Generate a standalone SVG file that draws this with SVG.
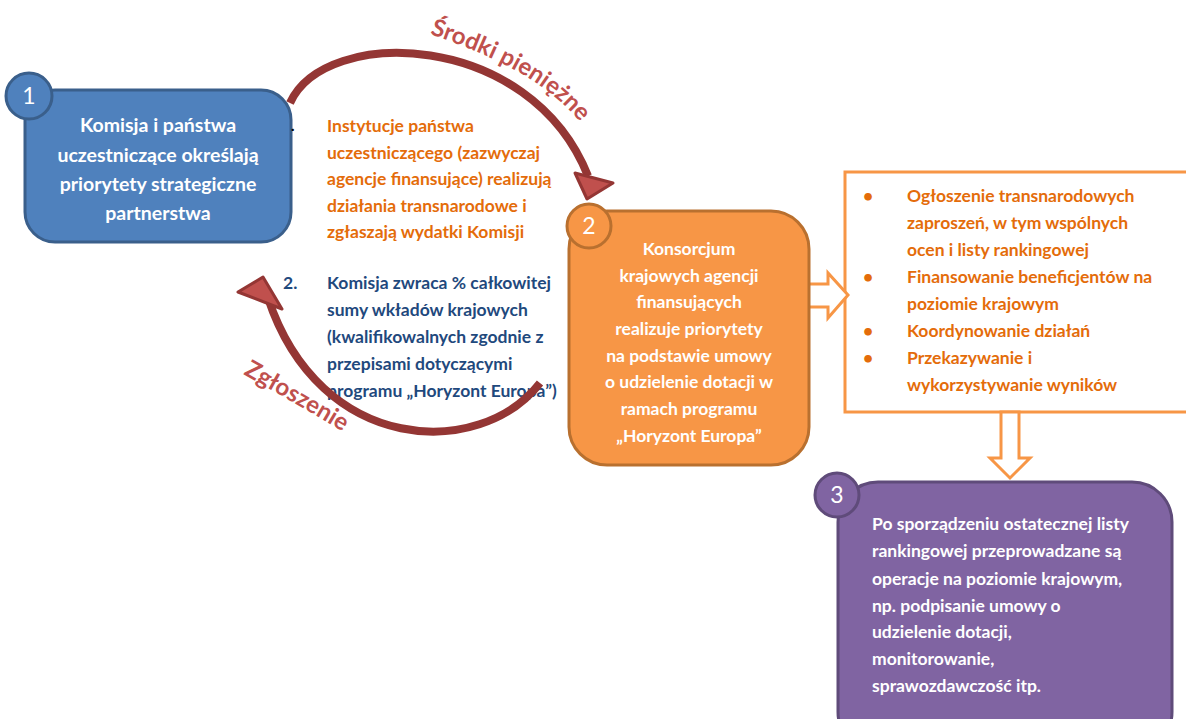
<svg xmlns="http://www.w3.org/2000/svg" width="1186" height="719" viewBox="0 0 1186 719">
<style>
text{font-family:Lato,"Open Sans","Liberation Sans",sans-serif;font-weight:bold}
.w1{fill:#fff;font-size:19.5px;text-anchor:middle}
.w2{fill:#fff;font-size:17.5px;text-anchor:middle}
.w3{fill:#fff;font-size:17.5px}
.or{fill:#E46C0A;font-size:17.5px}
.bl{fill:#1F497D;font-size:17.5px}
.num{fill:#fff;font-size:23px;font-weight:normal;text-anchor:middle}
.lbl{fill:#C0504D;font-size:24px}
.arc{fill:none;stroke:#943634;stroke-width:8}
.head{fill:#C0504D;stroke:#943634;stroke-width:3;stroke-linejoin:round}
.hollow{fill:#fff;stroke:#F79646;stroke-width:3}
</style>
<defs>
<path id="p1" d="M 430 34 C 475 50, 548 76, 586 130"/>
<path id="p2" d="M 243 374 Q 297 404, 350 436"/>
</defs>
<rect width="1186" height="719" fill="#fff"/>

<g id="node-right">
<rect x="845" y="172" width="350" height="240" fill="#fff" stroke="#F79646" stroke-width="3"/>
<g class="or">
<text x="863" y="202">•</text>
<text x="907" y="202">Ogłoszenie transnarodowych</text>
<text x="907" y="229">zaproszeń, w tym wspólnych</text>
<text x="907" y="256">ocen i listy rankingowej</text>
<text x="863" y="283">•</text>
<text x="907" y="283">Finansowanie beneficjentów na</text>
<text x="907" y="310">poziomie krajowym</text>
<text x="863" y="337">•</text>
<text x="907" y="337">Koordynowanie działań</text>
<text x="863" y="364">•</text>
<text x="907" y="364">Przekazywanie i</text>
<text x="907" y="391">wykorzystywanie wyników</text>
</g>
</g>

<g id="connectors">
<polygon class="hollow" points="800,284 828,284 828,273 848,295 828,318 828,307 800,307"/>
<polygon class="hollow" points="1001,412 1019,412 1019,458 1030,458 1010,478 990,458 1001,458"/>
</g>

<g id="node1">
<rect x="25" y="90" width="266" height="152" rx="30" fill="#4F81BD" stroke="#3A5F8B" stroke-width="3"/>
<circle cx="29" cy="96" r="23" fill="#4F81BD" stroke="#3A5F8B" stroke-width="3"/>
<text class="num" x="29" y="104">1</text>
<text class="w1" x="158" y="132">Komisja i państwa</text>
<text class="w1" x="158" y="162">uczestniczące określają</text>
<text class="w1" x="158" y="191">priorytety strategiczne</text>
<text class="w1" x="158" y="220">partnerstwa</text>
</g>

<g id="node2">
<rect x="569" y="211" width="240" height="254" rx="38" fill="#F79646" stroke="#B9702F" stroke-width="3"/>
<circle cx="589" cy="226" r="22" fill="#F79646" stroke="#B9702F" stroke-width="3"/>
<text class="num" x="589" y="234">2</text>
<text class="w2" x="689" y="255">Konsorcjum</text>
<text class="w2" x="689" y="282">krajowych agencji</text>
<text class="w2" x="689" y="308">finansujących</text>
<text class="w2" x="689" y="335">realizuje priorytety</text>
<text class="w2" x="689" y="362">na podstawie umowy</text>
<text class="w2" x="689" y="388">o udzielenie dotacji w</text>
<text class="w2" x="689" y="415">ramach programu</text>
<text class="w2" x="689" y="442">„Horyzont Europa”</text>
</g>

<g id="node3">
<rect x="838" y="482" width="334" height="270" rx="40" fill="#8064A2" stroke="#5F4B7A" stroke-width="3"/>
<circle cx="837" cy="495" r="22" fill="#8064A2" stroke="#5F4B7A" stroke-width="3"/>
<text class="num" x="837" y="503">3</text>
<text class="w3" x="872" y="530">Po sporządzeniu ostatecznej listy</text>
<text class="w3" x="872" y="557">rankingowej przeprowadzane są</text>
<text class="w3" x="872" y="585">operacje na poziomie krajowym,</text>
<text class="w3" x="872" y="612">np. podpisanie umowy o</text>
<text class="w3" x="872" y="638">udzielenie dotacji,</text>
<text class="w3" x="872" y="665">monitorowanie,</text>
<text class="w3" x="872" y="692">sprawozdawczość itp.</text>
</g>

<g id="text-middle">
<text x="291" y="131" style="fill:#000;font-size:15px">.</text>
<text class="or" x="327" y="132">Instytucje państwa</text>
<text class="or" x="327" y="158.5">uczestniczącego (zazwyczaj</text>
<text class="or" x="327" y="185">agencje finansujące) realizują</text>
<text class="or" x="327" y="211.5">działania transnarodowe i</text>
<text class="or" x="327" y="238">zgłaszają wydatki Komisji</text>
<text class="bl" x="283" y="289">2.</text>
<text class="bl" x="327" y="289">Komisja zwraca % całkowitej</text>
<text class="bl" x="327" y="316">sumy wkładów krajowych</text>
<text class="bl" x="327" y="343">(kwalifikowalnych zgodnie z</text>
<text class="bl" x="327" y="370">przepisami dotyczącymi</text>
<text class="bl" x="327" y="397">programu „Horyzont Europa”)</text>
</g>

<g id="arcs">
<path class="arc" d="M 290 103 C 325 25, 530 30, 588 176"/>
<polygon class="head" points="575,173 613,183 587,199"/>
<text class="lbl"><textPath href="#p1">Środki pieniężne</textPath></text>
<path class="arc" d="M 540 383 C 480 460, 320 455, 268 298"/>
<polygon class="head" points="238,292 263,277 282,309"/>
<text class="lbl"><textPath href="#p2">Zgłoszenie</textPath></text>
</g>
</svg>
